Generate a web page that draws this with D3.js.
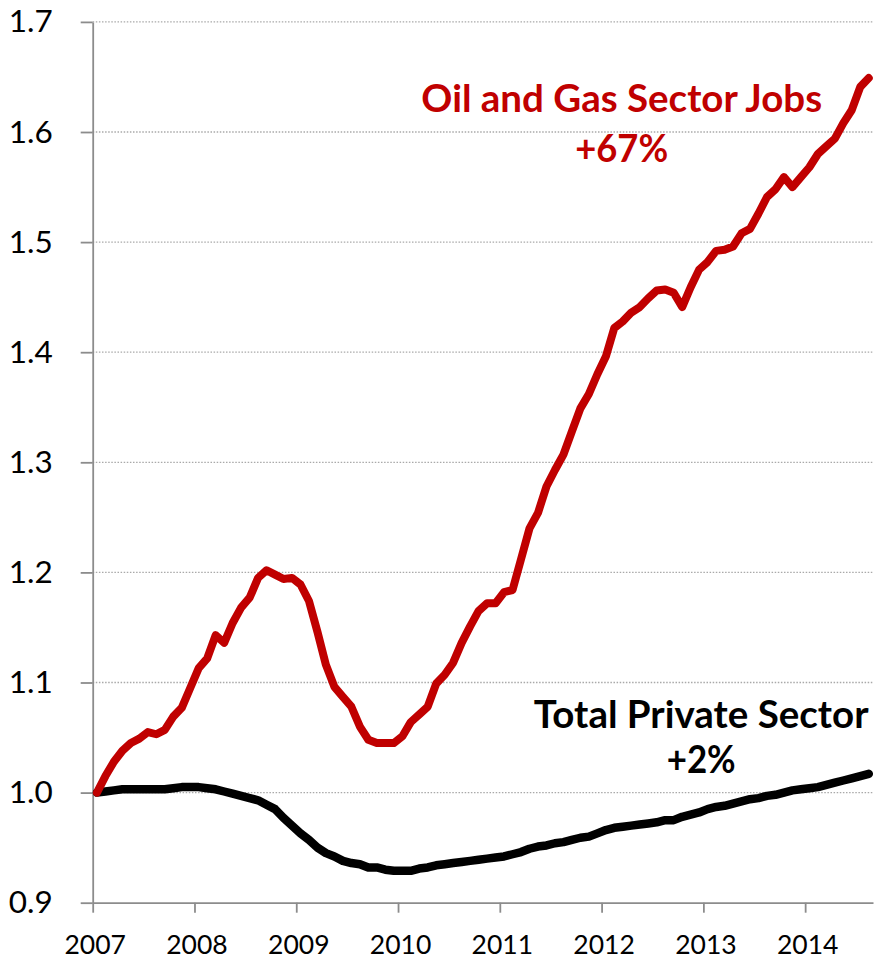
<!DOCTYPE html>
<html>
<head>
<meta charset="utf-8">
<script src="https://cdn.jsdelivr.net/npm/d3@7"></script>
<style>
  html, body { margin: 0; padding: 0; background: #fff; }
  svg { display: block; }
</style>
</head>
<body>
<svg id="chart" width="875" height="960"></svg>
<script>
// Employment indexed to January 2007 = 1.0, monthly from Jan 2007 to Aug 2014
const startYear = 2007;
const endYear = 2014 + 8 / 12;

const oilGasJobs = [
  1.000, 1.015, 1.028, 1.038, 1.045, 1.049, 1.055, 1.053, 1.057, 1.069, 1.077, 1.095,
  1.113, 1.122, 1.143, 1.136, 1.154, 1.168, 1.177, 1.195, 1.202, 1.198, 1.194, 1.195,
  1.189, 1.174, 1.146, 1.116, 1.096, 1.087, 1.078, 1.060, 1.048, 1.045, 1.045, 1.045,
  1.051, 1.064, 1.071, 1.078, 1.099, 1.107, 1.118, 1.136, 1.151, 1.165, 1.172, 1.172,
  1.182, 1.184, 1.212, 1.240, 1.254, 1.278, 1.293, 1.307, 1.328, 1.349, 1.362, 1.380,
  1.396, 1.422, 1.428, 1.436, 1.441, 1.449, 1.456, 1.457, 1.454, 1.441, 1.459, 1.475,
  1.482, 1.492, 1.493, 1.496, 1.508, 1.512, 1.526, 1.541, 1.548, 1.559, 1.550, 1.559,
  1.568, 1.580, 1.587, 1.594, 1.608, 1.620, 1.641, 1.649
];

const privateSectorJobs = [
  1.000, 1.001, 1.002, 1.003, 1.003, 1.003, 1.003, 1.003, 1.003, 1.004, 1.005, 1.005,
  1.005, 1.004, 1.003, 1.001, 0.999, 0.997, 0.995, 0.993, 0.989, 0.985, 0.977, 0.970,
  0.963, 0.957, 0.950, 0.945, 0.942, 0.938, 0.936, 0.935, 0.932, 0.932, 0.930, 0.929,
  0.929, 0.929, 0.931, 0.932, 0.934, 0.935, 0.936, 0.937, 0.938, 0.939, 0.940, 0.941,
  0.942, 0.944, 0.946, 0.949, 0.951, 0.952, 0.954, 0.955, 0.957, 0.959, 0.960, 0.963,
  0.966, 0.968, 0.969, 0.970, 0.971, 0.972, 0.973, 0.975, 0.975, 0.978, 0.980, 0.982,
  0.985, 0.987, 0.988, 0.990, 0.992, 0.994, 0.995, 0.997, 0.998, 1.000, 1.002, 1.003,
  1.004, 1.005, 1.007, 1.009, 1.011, 1.013, 1.015, 1.017
];

const yearTicks = [2007, 2008, 2009, 2010, 2011, 2012, 2013, 2014];
const valueTicks = [0.9, 1.0, 1.1, 1.2, 1.3, 1.4, 1.5, 1.6, 1.7];

const seriesLabels = [
  { lines: ["Oil and Gas Sector Jobs", "+67%"], color: "#C00000" },
  { lines: ["Total Private Sector", "+2%"], color: "#000000" }
];

(function draw() {
  const svg = d3.select("#chart");
  const plotLeft = 92.7, plotRight = 873, plotTop = 21.9, plotBottom = 902.7;
  const FONT = "Lato, 'Open Sans', sans-serif";

  const x = d3.scaleLinear().domain([startYear, endYear]).range([plotLeft, plotRight]);
  const y = d3.scaleLinear().domain([0.9, 1.7]).range([plotBottom, plotTop]);

  // each monthly value sits mid-month
  const monthX = i => x(startYear + (i + 0.5) / 12);

  // dotted horizontal gridlines
  svg.append("g")
    .selectAll("line")
    .data(valueTicks.filter(v => v > 0.9))
    .join("line")
    .attr("x1", plotLeft).attr("x2", plotRight)
    .attr("y1", d => y(d)).attr("y2", d => y(d))
    .attr("stroke", "#a9a9a9")
    .attr("stroke-width", 1.3)
    .attr("stroke-dasharray", "1.5 1.6");

  // y axis
  const yAxis = svg.append("g")
    .attr("transform", `translate(${plotLeft},0)`)
    .call(d3.axisLeft(y).tickValues(valueTicks).tickFormat(d3.format(".1f"))
      .tickSize(12).tickSizeOuter(0).tickPadding(28));

  // x axis
  const xAxis = svg.append("g")
    .attr("transform", `translate(0,${plotBottom})`)
    .call(d3.axisBottom(x).tickValues(yearTicks).tickFormat(d3.format("d"))
      .tickSize(10).tickSizeOuter(0).tickPadding(22.5));

  [yAxis, xAxis].forEach(g => {
    g.select(".domain").attr("stroke", "#8c8c8c").attr("stroke-width", 1.8);
    g.selectAll(".tick line").attr("stroke", "#8c8c8c").attr("stroke-width", 1.8);
    g.selectAll("text").attr("fill", "#000").attr("font-family", FONT);
  });
  yAxis.selectAll("text").attr("font-size", 31.5);
  xAxis.selectAll("text").attr("font-size", 26.5).attr("dx", 2);

  // lines
  const line = d3.line()
    .x((d, i) => monthX(i))
    .y(d => y(d))
    .curve(d3.curveLinear);

  svg.append("path")
    .datum(privateSectorJobs)
    .attr("d", line)
    .attr("fill", "none")
    .attr("stroke", "#000")
    .attr("stroke-width", 8.5)
    .attr("stroke-linejoin", "round")
    .attr("stroke-linecap", "round");

  svg.append("path")
    .datum(oilGasJobs)
    .attr("d", line)
    .attr("fill", "none")
    .attr("stroke", "#C00000")
    .attr("stroke-width", 8)
    .attr("stroke-linejoin", "round")
    .attr("stroke-linecap", "round");

  // series annotations
  const labelPlacement = [
    { cx: 621.7, baselines: [111.7, 161.7], widths: [409, 93] },
    { cx: 701.2, baselines: [728.3, 773.3], widths: [341, 69] }
  ];

  seriesLabels.forEach((lab, k) => {
    const p = labelPlacement[k];
    lab.lines.forEach((txt, j) => {
      const t = svg.append("text")
        .attr("x", p.cx)
        .attr("y", p.baselines[j])
        .attr("text-anchor", "middle")
        .attr("font-family", FONT)
        .attr("font-weight", 700)
        .attr("font-size", 38.5)
        .attr("fill", lab.color)
        .text(txt);
      const w = t.node().getComputedTextLength();
      if (w > p.widths[j]) {
        t.attr("textLength", p.widths[j]).attr("lengthAdjust", "spacingAndGlyphs");
      }
    });
  });
})();
</script>
</body>
</html>
